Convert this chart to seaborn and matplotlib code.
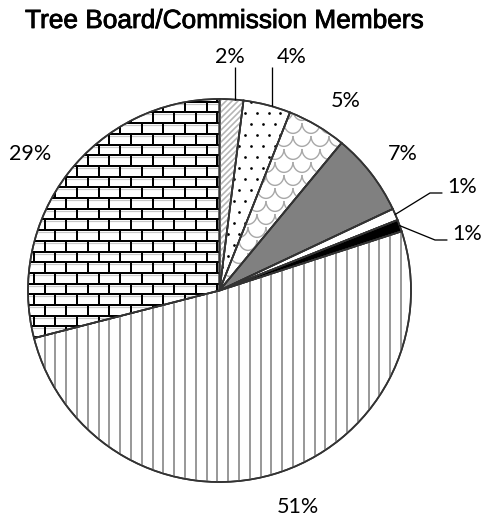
import numpy as np
import matplotlib
matplotlib.use("Agg")
import matplotlib.pyplot as plt
import seaborn as sns
from matplotlib.collections import LineCollection
from matplotlib.patches import Wedge
import matplotlib.patheffects as pe

# Data: share of tree board / commission members by category
shares = [2, 4, 5, 7, 1, 1, 51, 29]
labels = ["2%", "4%", "5%", "7%", "1%", "1%", "51%", "29%"]
fills = ["white", "white", "white", "#808080", "white", "black", "white", "white"]
patterns = ["diag", "dots", "scales", None, None, None, "vlines", "bricks"]

title = "Tree Board/Commission Members"

sns.set_theme(style="white")
plt.rcParams["font.family"] = ["Lato", "DejaVu Sans"]

W, H = 484, 519
fig = plt.figure(figsize=(W / 100, H / 100), dpi=100)
ax = fig.add_axes([0, 0, 1, 1])

# pixel-like coordinates (y measured from the top of the canvas)
CX, CY, R = 219.5, 290.5, 191.5
center = (CX, H - CY)
EDGE = "#333333"
PX = 0.72  # one pixel in points

wedges, _ = ax.pie(shares, colors=fills, startangle=90, counterclock=False,
                   center=center, radius=R, frame=True,
                   wedgeprops=dict(edgecolor=EDGE, linewidth=1.7 * PX))
ax.set_xlim(0, W)
ax.set_ylim(0, H)
ax.set_aspect("equal")
ax.axis("off")

x_lo, x_hi = center[0] - R - 5, center[0] + R + 5
y_lo, y_hi = center[1] - R - 5, center[1] + R + 5


def clip_lines(segs, wedge, color, lw):
    lc = LineCollection(segs, colors=color, linewidths=lw * PX, zorder=2,
                        capstyle="butt")
    ax.add_collection(lc)
    lc.set_clip_path(wedge)


def draw_pattern(kind, wedge):
    if kind == "vlines":
        xs = np.arange(x_lo, x_hi, 10.8)
        segs = [[(x, y_lo), (x, y_hi)] for x in xs]
        clip_lines(segs, wedge, "#9a9a9a", 2.0)
    elif kind == "diag":
        step = 6.0
        span = y_hi - y_lo
        xs = np.arange(x_lo - span, x_hi, step)
        segs = [[(x, y_lo), (x + span, y_hi)] for x in xs]
        clip_lines(segs, wedge, "#b4b4b4", 1.6)
    elif kind == "dots":
        pts = []
        for k, y in enumerate(np.arange(y_lo, y_hi, 11.0)):
            off = 5.8 if k % 2 else 0.0
            for x in np.arange(x_lo + off, x_hi, 11.7):
                pts.append((x, y))
        pts = np.array(pts)
        sc = ax.scatter(pts[:, 0], pts[:, 1], s=3.8, c="black",
                        linewidths=0, zorder=2)
        sc.set_clip_path(wedge)
    elif kind == "scales":
        w, h = 18.0, 13.0
        t = np.linspace(np.pi, 2 * np.pi, 16)
        segs = []
        for k, y in enumerate(np.arange(y_lo, y_hi + h, h)):
            off = w / 2 if k % 2 else 0.0
            for x in np.arange(x_lo + off, x_hi, w):
                segs.append(np.column_stack([x + w / 2 * np.cos(t),
                                             y + 0.8 * h * np.sin(t)]))
        clip_lines(segs, wedge, "#a8a8a8", 1.4)
    elif kind == "bricks":
        bh, bw = 10.7, 21.6
        rows = np.arange(y_lo, y_hi, bh)
        segs = [[(x_lo, y), (x_hi, y)] for y in rows]
        for k, y in enumerate(rows):
            off = bw / 2 if k % 2 else 0.0
            for x in np.arange(x_lo + off, x_hi, bw):
                segs.append([(x, y), (x, y + bh)])
        # soft grey inner shading of each brick
        shade = [[(x_lo, y - 2.0), (x_hi, y - 2.0)] for y in rows]
        clip_lines(shade, wedge, "#c8c8c8", 1.2)
        clip_lines(segs, wedge, "black", 2.0)


for kind, wdg in zip(patterns, wedges):
    if kind:
        draw_pattern(kind, wdg)

# outlines on top of the fill patterns
for wdg in wedges:
    ax.add_patch(Wedge(wdg.center, wdg.r, wdg.theta1, wdg.theta2,
                       fill=False, edgecolor=EDGE, linewidth=1.7 * PX,
                       zorder=3))

# label layout (x centre, baseline), measured from the top-left corner
label_pos = [(230, 63), (292, 63), (346, 107), (403, 160),
             (462, 193), (467, 240), (298, 513), (30, 160)]
for txt, (lx, ly) in zip(labels, label_pos):
    ax.text(lx, H - ly, txt, ha="center", va="baseline", fontsize=15.5,
            color="black", zorder=4)

# leader lines
def edge_y(x):
    return center[1] + np.sqrt(R ** 2 - (x - center[0]) ** 2)

for lx in (235, 271.5):
    ax.plot([lx, lx], [edge_y(lx), H - 67], color="black",
            lw=1.3 * PX, zorder=4, solid_capstyle="butt")

for wdg, (kx, ky), ex in ((wedges[4], (430, 193), 442),
                          (wedges[5], (435, 240), 447)):
    mid = np.deg2rad((wdg.theta1 + wdg.theta2) / 2)
    sx = wdg.center[0] + wdg.r * np.cos(mid)
    sy = wdg.center[1] + wdg.r * np.sin(mid)
    ax.plot([sx, kx, ex], [sy, H - ky, H - ky], color="black",
            lw=1.3 * PX, zorder=4)

fig.text(25 / W, 1 - 28 / H, title, ha="left", va="baseline",
         fontsize=18.9, family=["Liberation Sans", "DejaVu Sans"],
         color="black",
         path_effects=[pe.withStroke(linewidth=0.6, foreground="black")])

fig.savefig("out.png", dpi=100)
